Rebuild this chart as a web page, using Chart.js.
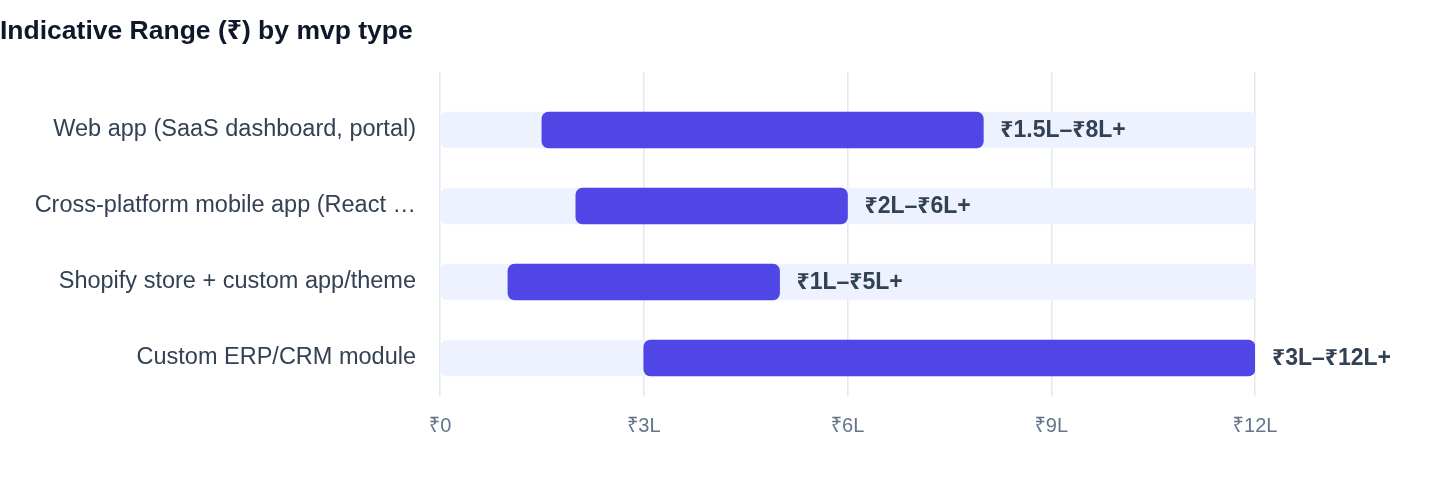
<!DOCTYPE html>
<html>
<head>
<meta charset="utf-8">
<script src="https://cdn.jsdelivr.net/npm/chart.js@4.4.1/dist/chart.umd.min.js"></script>
<style>
  html, body { margin: 0; padding: 0; background: #fff; }
  #wrap { width: 1440px; height: 484px; position: relative; }
</style>
</head>
<body>
<div id="wrap"><canvas id="rangeChart"></canvas></div>
<script>
// mvp types and their indicative ranges, in lakh rupees
const mvpTypes = [
    'Web app (SaaS dashboard, portal)',
    'Cross-platform mobile app (React Native / Flutter)',
    'Shopify store + custom app/theme',
    'Custom ERP/CRM module'
];
const rangeLow = [1.5, 2, 1, 3];
const rangeHigh = [8, 6, 5, 12];
const scaleMax = 12;
const tickStep = 3;

const font = "'Helvetica Neue', Helvetica, Arial, 'Liberation Sans', 'Noto Sans', sans-serif";

let ranges = mvpTypes.map((t, i) => [rangeLow[i], rangeHigh[i]]);
let tracks = mvpTypes.map(() => [0, scaleMax]);

function rupees(v) {
    return v === 0 ? '₹0' : '₹' + v + 'L';
}

// text after each bar: "₹1.5L–₹8L+"
const rangeLabels = {
    id: 'rangeLabels',
    afterDatasetsDraw(chart) {
        let ctx = chart.ctx;
        let meta = chart.getDatasetMeta(0);
        ctx.save();
        ctx.font = 'bold 23px ' + font;
        ctx.fillStyle = '#334155';
        ctx.textAlign = 'left';
        ctx.textBaseline = 'middle';
        meta.data.forEach(function (bar, i) {
            let txt = rupees(rangeLow[i]) + '–' + rupees(rangeHigh[i]) + '+';
            ctx.fillText(txt, bar.x + 17, bar.y + 1);
        });
        ctx.restore();
    }
};

let ctx = document.getElementById('rangeChart').getContext('2d');

let rangeChart = new Chart(ctx, {
    type: 'bar',
    data: {
        labels: mvpTypes,
        datasets: [{
            data: ranges,
            backgroundColor: '#4F46E5',
            borderRadius: 7,
            borderSkipped: false,
            barThickness: 36,
            order: 1
        }, {
            data: tracks,
            backgroundColor: '#EEF2FF',
            borderRadius: 7,
            borderSkipped: false,
            barThickness: 36,
            order: 2
        }]
    },
    options: {
        indexAxis: 'y',
        responsive: true,
        maintainAspectRatio: false,
        animation: false,
        layout: {
            padding: { left: 0, right: 185, top: 0, bottom: 28 }
        },
        plugins: {
            legend: { display: false },
            tooltip: { enabled: false },
            title: {
                display: true,
                text: 'Indicative Range (₹) by mvp type',
                align: 'start',
                color: '#0f172a',
                font: { family: font, size: 26.5, weight: 'bold', lineHeight: 1.2 },
                padding: { top: 16, bottom: 24.2 }
            }
        },
        scales: {
            x: {
                type: 'linear',
                position: 'bottom',
                min: 0,
                max: scaleMax,
                border: { display: false },
                grid: { color: '#e2e8f0', lineWidth: 1.5, drawTicks: false },
                ticks: {
                    stepSize: tickStep,
                    padding: 18,
                    color: '#64748b',
                    font: { family: font, size: 20 },
                    callback: (v) => rupees(v)
                }
            },
            xTop: {
                type: 'linear',
                position: 'top',
                min: 0,
                max: scaleMax,
                border: { display: false },
                grid: { color: '#e2e8f0', lineWidth: 1.5, drawOnChartArea: false, drawTicks: true, tickLength: 20 },
                ticks: { stepSize: tickStep, display: false }
            },
            y: {
                stacked: true,
                border: { display: false },
                grid: { display: false, drawTicks: false },
                afterFit: function (scale) { scale.width = 440; },
                ticks: {
                    padding: 24,
                    color: '#334155',
                    font: { family: font, size: 23.5 },
                    callback: function (v) {
                        let s = this.getLabelForValue(v);
                        return s.length > 32 ? s.slice(0, 32) + ' …' : s;
                    }
                }
            }
        }
    },
    plugins: [rangeLabels]
});
</script>
</body>
</html>
